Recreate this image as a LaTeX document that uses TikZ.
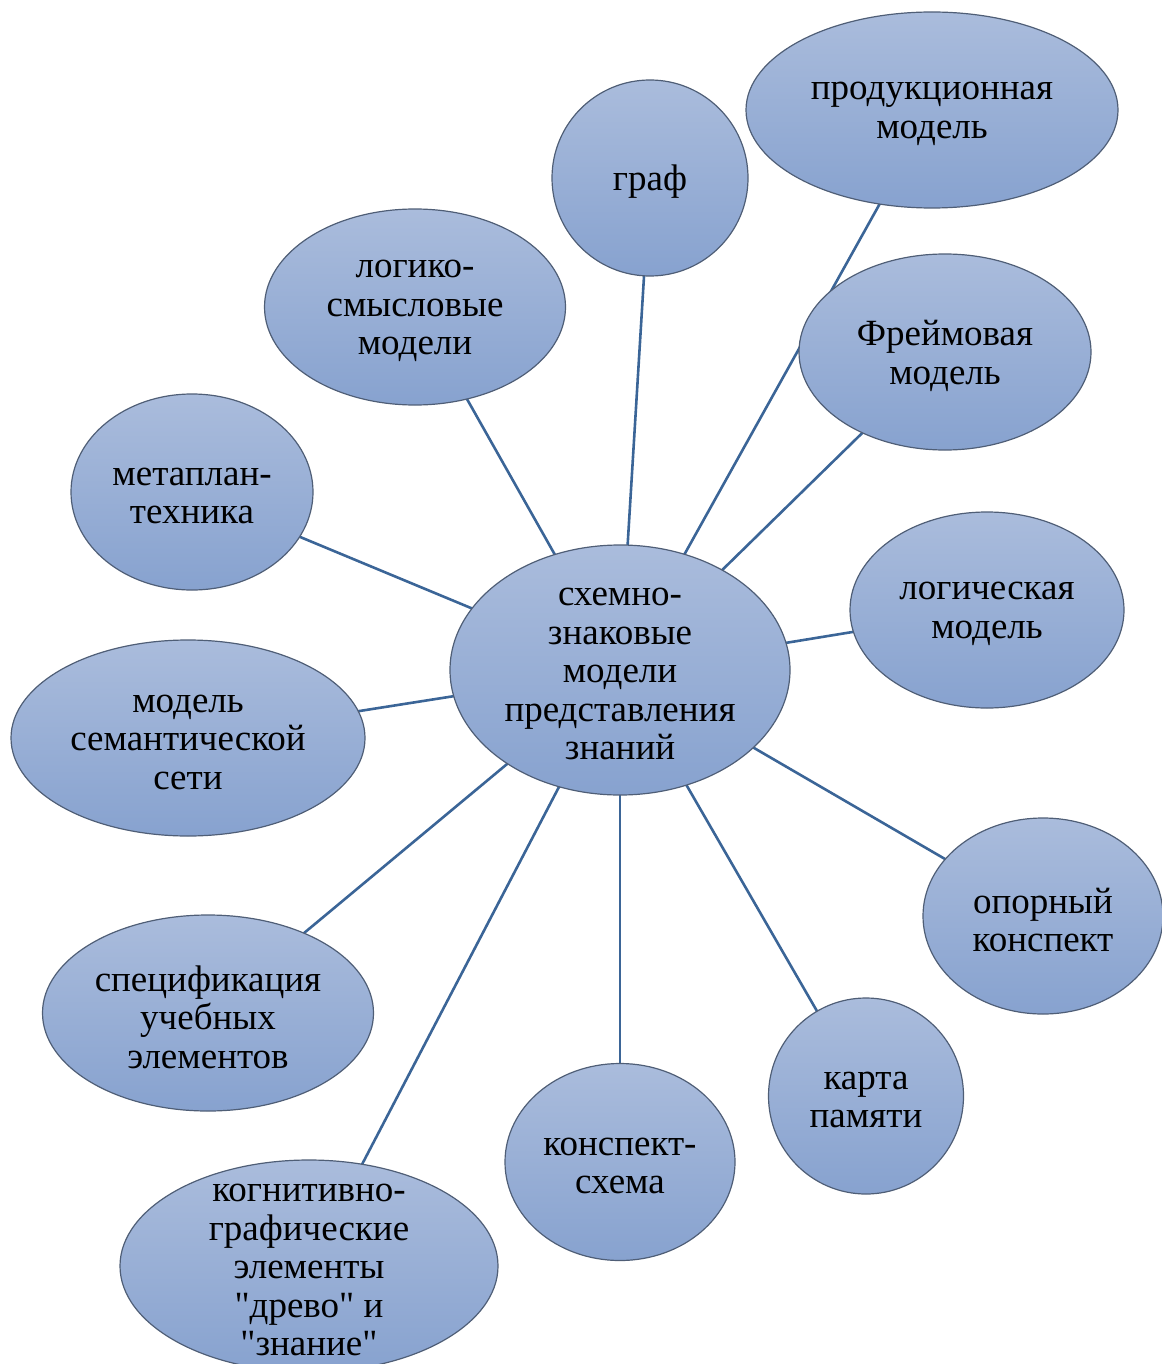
\documentclass[tikz,border=0pt]{standalone}
\usepackage{fontspec}
\setmainfont{Liberation Serif}[Ligatures=TeXOff]
\newfontfamily\txtfont{Liberation Serif}[Ligatures=TeXOff]
\usetikzlibrary{shapes.geometric,backgrounds}
\definecolor{topc}{HTML}{AABCDC}
\definecolor{botc}{HTML}{87A2CF}
\definecolor{bordc}{HTML}{4F5E76}
\definecolor{linec}{HTML}{3B6597}
\tikzset{
  bub/.style={ellipse, draw=bordc, line width=1.2pt, top color=topc, bottom color=botc,
    inner sep=0pt, outer sep=0pt},
  txt/.style={align=center, inner sep=0pt, yshift=-4pt, font=\txtfont\fontsize{37}{38.5}\selectfont, text=black},
  conn/.style={draw=linec, line width=2.6pt}
}
\begin{document}
\begin{tikzpicture}[x=1pt,y=-1pt]
\useasboundingbox (0,0) rectangle (1161,1364);
\node[bub, minimum width=340pt, minimum height=250pt, label={[txt,name=tc]center:схемно-\\знаковые\\модели\\представления\\знаний}] (c) at (620,670) {};
\node[bub, minimum width=196pt, minimum height=196pt, label={[txt,name=t1]center:граф}] (graf) at (650,178) {};
\node[bub, minimum width=372pt, minimum height=196pt, label={[txt,name=t2]center:продукционная\\модель}] (prod) at (932,110) {};
\node[bub, minimum width=292pt, minimum height=196pt, label={[txt,name=t3]center:Фреймовая\\модель}] (frame) at (945,352) {};
\node[bub, minimum width=301pt, minimum height=196pt, label={[txt,name=t4]center:логико-\\смысловые\\модели}] (logsm) at (415,307) {};
\node[bub, minimum width=242pt, minimum height=196pt, label={[txt,name=t5]center:метаплан-\\техника}] (meta) at (192,492) {};
\node[bub, minimum width=274pt, minimum height=196pt, label={[txt,name=t6]center:логическая\\модель}] (logic) at (987,610) {};
\node[bub, minimum width=354pt, minimum height=196pt, label={[txt,name=t7]center:модель\\семантической\\сети}] (sem) at (188,738) {};
\node[bub, minimum width=240pt, minimum height=196pt, label={[txt,name=t8]center:опорный\\конспект}] (opor) at (1043,916) {};
\node[bub, minimum width=331pt, minimum height=196pt, label={[txt,name=t9]center:спецификация\\учебных\\элементов}] (spec) at (208,1013) {};
\node[bub, minimum width=195pt, minimum height=196pt, label={[txt,name=t10]center:карта\\памяти}] (karta) at (866,1096) {};
\node[bub, minimum width=230pt, minimum height=197pt, label={[txt,name=t11]center:конспект-\\схема}] (ksch) at (620,1162) {};
\node[bub, minimum width=378pt, minimum height=212pt, label={[txt,name=t12]center:когнитивно-\\графические\\элементы\\"древо" и\\"знание"}] (kogn) at (309,1266) {};
\begin{scope}[on background layer]
\foreach \n in {graf,prod,frame,logsm,meta,logic,sem,opor,spec,karta,ksch,kogn}
  \draw[conn] (c.center) -- (\n.center);
\end{scope}
\end{tikzpicture}
\end{document}
